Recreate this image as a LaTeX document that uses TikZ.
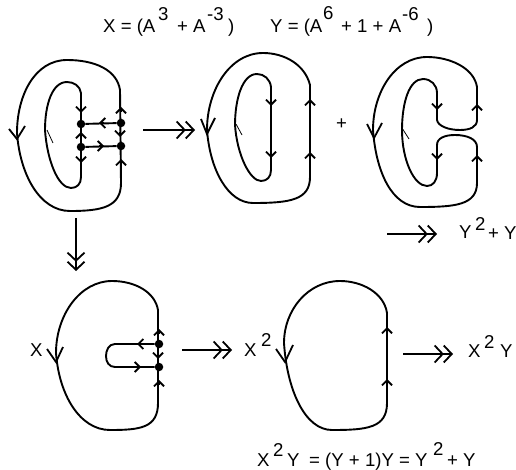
\documentclass[tikz,border=0pt]{standalone}
\usepackage{fontspec}
\setmainfont{Liberation Sans}
\usetikzlibrary{arrows.meta}
\tikzset{
  x=1pt,y=-1pt,
  curve/.style={line width=1.9pt,line join=round},
  tick/.style={line width=0.8pt},
  small/.style={line width=1.6pt,-{Straight Barb[length=5pt,width=10pt,line width=1.8pt]}},
  bigv/.style={line width=1.8pt,line join=miter},
  dbl/.style={line width=1.9pt,-{Straight Barb[length=8pt,width=17pt,line width=1.8pt,sep=-1pt]Straight Barb[length=8pt,width=17pt,line width=1.8pt]}},
  dot/.style={circle,fill=black,inner sep=0pt,minimum size=8.5pt},
  txt/.style={anchor=base west,inner sep=0pt,font=\fontsize{18.6}{20}\selectfont},
}
\newcommand{\upar}[2]{\draw[small] (#1,#2+2) -- (#1,#2-3);}
\newcommand{\dnar}[2]{\draw[small] (#1,#2-2) -- (#1,#2+3);}
\newcommand{\lfar}[2]{\draw[small] (#1+2,#2) -- (#1-3,#2);}
\newcommand{\rtar}[2]{\draw[small] (#1-2,#2) -- (#1+3,#2);}
\begin{document}
\begin{tikzpicture}
\useasboundingbox (0,0) rectangle (516,470);
% top texts
\node[txt] (t1) at (103,33) {X = (A};
\node[txt] (t2) at (158,21) {3};
\node[txt] (t3) at (177,33) {+ A};
\node[txt] (t4) at (207,21) {-3};
\node[txt] (t5) at (228,33) {)};
\node[txt] (t6) at (270,33) {Y = (A};
\node[txt] (t7) at (323,20) {6};
\node[txt] (t8) at (341,33) {+ 1 + A};
\node[txt] (t9) at (402,21) {-6};
\node[txt] (t10) at (427,33) {)};
% diagram 1
\draw[curve] (120,90) .. controls (117,70) and (95,60) .. (67,60) .. controls (35,60) and (17,95) .. (17,133) .. controls (20,175) and (40,211) .. (70,211) .. controls (102,211) and (121,207) .. (121,183) -- cycle;
\draw[curve] (81,93) .. controls (80,86) and (74,82) .. (67,82) .. controls (52,82) and (45,105) .. (45,130) .. controls (47,160) and (58,188) .. (71,188) .. controls (77,188) and (81,184) .. (81,177) -- cycle;
\node[dot] (a1) at (81,124) {};
\node[dot] (a2) at (81,147) {};
\node[dot] (a3) at (121,123) {};
\node[dot] (a4) at (121,146) {};
\draw[curve] (a1) -- (a3);
\draw[curve] (a2) -- (a4);
\draw[tick] (47,130) -- (53,143);
\draw[bigv] (9,129) -- (17,139) -- (25,126);
\dnar{81}{110}\upar{81}{135}\dnar{81}{160}
\upar{121}{110}\dnar{120}{134}\upar{121}{162}
\lfar{102}{123}\rtar{101}{146}
\coordinate (b1) at (143,130); \coordinate (b2) at (195,130);
\draw[dbl] (b1) -- (b2);
% diagram 2
\draw[curve] (310,85) .. controls (305,65) and (285,53) .. (263,53) .. controls (230,53) and (207,90) .. (207,130) .. controls (210,170) and (228,203) .. (253,203) .. controls (290,203) and (310,200) .. (310,177) -- cycle;
\draw[curve] (271,87) .. controls (270,79) and (264,74) .. (257,74) .. controls (242,74) and (235,100) .. (235,125) .. controls (237,155) and (250,181) .. (261,181) .. controls (267,181) and (271,177) .. (271,170) -- cycle;
\draw[tick] (236,124) -- (242,135);
\draw[bigv] (201,119) -- (207,134) -- (215,118);
\dnar{271}{103}\dnar{271}{155}\upar{310}{102}\upar{310}{155}
\node[txt] (plus) at (336,130) {+};
% diagram 3
\draw[curve] (477,120) -- (477,87) .. controls (474,68) and (450,57) .. (427,57) .. controls (395,57) and (373,92) .. (373,130) .. controls (376,172) and (392,207) .. (420,207) .. controls (455,207) and (477,205) .. (477,183) -- (477,147) .. controls (477,139) and (467,135) .. (455,135) .. controls (445,135) and (437,138) .. (437,145) -- (437,173) .. controls (437,181) and (433,186) .. (427,186) .. controls (414,186) and (402,160) .. (402,130) .. controls (402,103) and (409,79) .. (423,79) .. controls (431,79) and (437,85) .. (437,93) -- (437,120) .. controls (438,126) and (448,130) .. (460,130) .. controls (470,130) and (477,127) .. (477,120) -- cycle;
\draw[tick] (402,128) -- (409,139);
\draw[bigv] (367,124) -- (374,138) -- (382,123);
\dnar{437}{107}\dnar{437}{157}\upar{477}{107}\upar{477}{158}
\coordinate (c1) at (387,234); \coordinate (c2) at (437,234);
\draw[dbl] (c1) -- (c2);
\node[txt] (y1) at (459,239) {Y};
\node[txt] (y2) at (475,230) {2};
\node[txt] (y3) at (488,240) {+ Y};
% down arrow
\coordinate (d1) at (76,218); \coordinate (d2) at (76,271);
\draw[dbl] (d1) -- (d2);
% diagram 4
\node[dot] (e1) at (159,344) {};
\node[dot] (e2) at (159,367) {};
\draw[curve] (e1) -- (115,344) .. controls (109,344) and (106,350) .. (106,356) .. controls (106,362) and (109,367) .. (115,367) -- (e2);
\draw[curve] (158,310) .. controls (155,292) and (135,281) .. (112,281) .. controls (80,281) and (56,315) .. (56,353) .. controls (59,395) and (80,430) .. (110,430) .. controls (140,430) and (158,428) .. (158,403) -- cycle;
\draw[bigv] (47,349) -- (56,362) -- (63,347);
\upar{159}{332}\dnar{158}{356}\upar{159}{383}
\lfar{140}{344}\rtar{138}{367}
\node[txt] (x1) at (30,356) {X};
\coordinate (f1) at (182,350); \coordinate (f2) at (232,350);
\draw[dbl] (f1) -- (f2);
\node[txt] (x2) at (244,356) {X};
\node[txt] (x3) at (261,346) {2};
% diagram 5
\draw[curve] (387,313) .. controls (384,293) and (362,281) .. (340,281) .. controls (308,281) and (284,310) .. (284,343) .. controls (287,390) and (305,430) .. (332,430) .. controls (367,430) and (387,428) .. (387,403) -- cycle;
\draw[bigv] (276,349) -- (285,362) -- (293,345);
\upar{387}{330}\upar{387}{382}
\coordinate (g1) at (403,354); \coordinate (g2) at (453,354);
\draw[dbl] (g1) -- (g2);
\node[txt] (x4) at (468,357) {X};
\node[txt] (x5) at (484,348) {2};
\node[txt] (x6) at (500,357) {Y};
% bottom equation
\node[txt] (q1) at (257,466) {X};
\node[txt] (q2) at (273,456) {2};
\node[txt] (q3) at (287,466) {Y};
\node[txt] (q4) at (309,466) {= (Y + 1)Y = Y};
\node[txt] (q5) at (433,455) {2};
\node[txt] (q6) at (447,466) {+ Y};
\end{tikzpicture}
\end{document}
